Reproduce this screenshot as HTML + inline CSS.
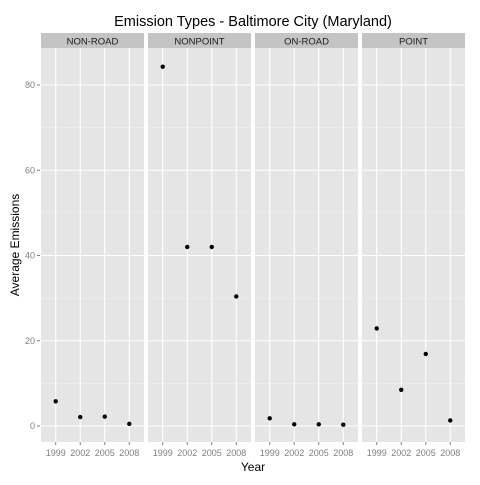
<!DOCTYPE html>
<html><head><style>
body{margin:0;background:#fff;}
svg text{font-family:"Liberation Sans",sans-serif;}
</style></head><body>
<svg id="chart" width="480" height="480" xmlns="http://www.w3.org/2000/svg">
<text x="253" y="26" text-anchor="middle" font-size="14.5">Emission Types - Baltimore City (Maryland)</text>
<text x="253" y="471" text-anchor="middle" font-size="12">Year</text>
<text transform="translate(19,245) rotate(-90)" text-anchor="middle" font-size="12">Average Emissions</text>
<g id="plots"></g>
</svg>
<script>
const facets=["NON-ROAD","NONPOINT","ON-ROAD","POINT"];
const years=["1999","2002","2005","2008"];
const nonRoad=[5.8,2.1,2.2,0.5];
const nonPoint=[84.3,42,42,30.4];
const onRoad=[1.8,0.4,0.4,0.3];
const pointSeries=[22.9,8.5,16.9,1.3];
const yTicks=[0,20,40,60,80];
const series=[nonRoad,nonPoint,onRoad,pointSeries];
const NS="http://www.w3.org/2000/svg";
const g=document.getElementById('plots');
const panelX0=[41,148,255,362],pw=103,plotTop=48,plotBottom=442;
function y(v){return 426-v*(426-85)/80;}
function x(i,p){return panelX0[p]+(i+1-0.4)*pw/4.2;}
function el(t,a,parent){const e=document.createElementNS(NS,t);for(const k in a)e.setAttribute(k,a[k]);(parent||g).appendChild(e);return e;}
facets.forEach((f,p)=>{
  const bg=el('rect',{x:panelX0[p],y:plotTop,width:pw,height:plotBottom-plotTop,fill:'#e5e5e5'});
  
  
  const st=el('rect',{x:panelX0[p],y:33,width:pw,height:15,fill:'#c4c4c4'});
  
  
  const sl=el('text',{x:panelX0[p]+pw/2,y:44.5,'text-anchor':'middle','font-size':'9.5',fill:'#1a1a1a'});
  sl.textContent=f;
  
  
  for(let k=0;k<yTicks.length-1;k++){
    const mv=(yTicks[k]+yTicks[k+1])/2;
    el('line',{x1:panelX0[p],x2:panelX0[p]+pw,y1:y(mv),y2:y(mv),stroke:'#f2f2f2','stroke-width':0.6});
  }
  el('line',{x1:panelX0[p],x2:panelX0[p]+pw,y1:y(100),y2:y(100),stroke:'#f2f2f2','stroke-width':0.6});
  yTicks.forEach(t=>el('line',{x1:panelX0[p],x2:panelX0[p]+pw,y1:y(t),y2:y(t),stroke:'#fff','stroke-width':1.1}));
  years.forEach((yr,i)=>{
    el('line',{x1:x(i,p),x2:x(i,p),y1:plotTop,y2:plotBottom,stroke:'#fff','stroke-width':1.1});
    el('line',{x1:x(i,p),x2:x(i,p),y1:plotBottom,y2:plotBottom+3,stroke:'#7f7f7f','stroke-width':1});
    const t=el('text',{x:x(i,p),y:plotBottom+14,'text-anchor':'middle','font-size':'9',fill:'#7f7f7f'});
    t.textContent=yr;
    
    
  });
  series[p].forEach((v,i)=>{
    const c=el('circle',{cx:x(i,p),cy:y(v),r:2.2,fill:'#000'});
    
    
  });
});
yTicks.forEach(t=>{
  el('line',{x1:37,x2:40,y1:y(t),y2:y(t),stroke:'#7f7f7f','stroke-width':1});
  const l=el('text',{x:35,y:y(t)+3,'text-anchor':'end','font-size':'9',fill:'#7f7f7f'});
  l.textContent=t;
  
  
});
</script>
</body></html>
